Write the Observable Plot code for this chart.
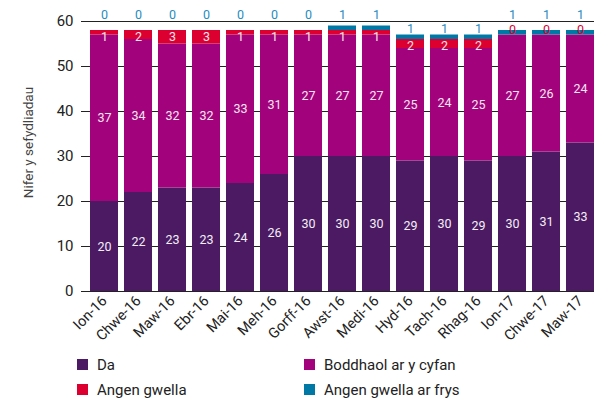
<!DOCTYPE html>
<html>
<head>
<meta charset="utf-8">
<script src="https://cdn.jsdelivr.net/npm/d3@7"></script>
<script src="https://cdn.jsdelivr.net/npm/@observablehq/plot@0.6"></script>
<style>
  body { margin: 0; background: #fff; font-family: Roboto, "Noto Sans", sans-serif; }
  #wrap { width: 594px; }
  .legend { display: grid; grid-template-columns: 227px 250px; padding-left: 77px; margin-top: 2px; row-gap: 0; }
  .item { display: flex; align-items: center; height: 25px; font-size: 15px; color: #222; }
  .sw { width: 11px; height: 11px; margin-right: 9px; flex: none; }
</style>
</head>
<body>
<div id="wrap"></div>
<script>
const months = ["Ion-16","Chwe-16","Maw-16","Ebr-16","Mai-16","Meh-16","Gorff-16","Awst-16","Medi-16","Hyd-16","Tach-16","Rhag-16","Ion-17","Chwe-17","Maw-17"];
const series = ["Da","Boddhaol ar y cyfan","Angen gwella","Angen gwella ar frys"];
const colors = ["#4b1a63","#a2037c","#dc0030","#0078a6"];
const da       = [20,22,23,23,24,26,30,30,30,29,30,29,30,31,33];
const boddhaol = [37,34,32,32,33,31,27,27,27,25,24,25,27,26,24];
const angen    = [1,2,3,3,1,1,1,1,1,2,2,2,0,0,0];
const frys     = [0,0,0,0,0,0,0,1,1,1,1,1,1,1,1];
const yTicks = [0,10,20,30,40,50,60];
const yLabel = "Nifer y sefydliadau";

const values = [da, boddhaol, angen, frys];
const rows = [];
months.forEach((m, i) => {
  let acc = 0;
  series.forEach((s, k) => {
    const v = values[k][i];
    rows.push({month: m, series: s, value: v, y1: acc, y2: acc + v, mid: acc + v / 2, total: 0});
    acc += v;
  });
  rows.filter(r => r.month === m).forEach(r => r.total = acc);
});

const of = s => rows.filter(r => r.series === s);
const red = of("Angen gwella");
const blue = of("Angen gwella ar frys").map(r => ({...r, ly: r.total >= 58 ? 60.5 : r.total + 0.45}));

const chart = Plot.plot({
  width: 594,
  height: 350,
  marginLeft: 81,
  marginRight: 0,
  marginTop: 21,
  marginBottom: 59,
  style: {fontFamily: "Roboto, 'Noto Sans', sans-serif", background: "#fff"},
  x: {domain: months, paddingInner: 0.185, paddingOuter: 0.058, align: 1},
  y: {domain: [0, 60]},
  color: {domain: series, range: colors},
  marks: [
    Plot.ruleY(yTicks, {stroke: "#222", strokeWidth: 1}),
    Plot.barY(rows, {x: "month", y1: "y1", y2: "y2", fill: "series"}),
    Plot.text(of("Da"), {x: "month", y: "mid", text: d => String(d.value), fill: "#f4eef6", fontSize: 12.5}),
    Plot.text(of("Boddhaol ar y cyfan"), {x: "month", y: "mid", text: d => String(d.value), fill: "#f7e6f1", fontSize: 12.5}),
    Plot.text(red.filter(d => d.value > 0), {x: "month", y: "y2", text: d => String(d.value), fill: "#f9e3ea", fontSize: 12.5, lineAnchor: "top", dy: 2}),
    Plot.text(red.filter(d => d.value === 0), {x: "month", y: "y2", text: d => String(d.value), fill: "#dc0030", fontSize: 12.5, lineAnchor: "bottom", dy: -1}),
    Plot.text(blue, {x: "month", y: "ly", text: d => String(d.value), fill: "#2a8cc0", fontSize: 12.5, lineAnchor: "bottom"}),
    Plot.axisY({ticks: yTicks, tickSize: 0, tickPadding: 8, fontSize: 15, color: "#222", label: null}),
    Plot.text([yLabel], {frameAnchor: "left", rotate: -90, dx: -53, dy: -14, fontSize: 13.5, fill: "#444", text: d => d, textAnchor: "middle", lineAnchor: "middle"}),
    Plot.axisX({tickRotate: -45, tickSize: 0, tickPadding: 7, fontSize: 14.5, color: "#222", label: null})
  ]
});
document.getElementById("wrap").appendChild(chart);

const legend = document.createElement("div");
legend.className = "legend";
[0, 1, 2, 3].forEach(k => {
  const it = document.createElement("div");
  it.className = "item";
  const sw = document.createElement("span");
  sw.className = "sw";
  sw.style.background = colors[k];
  it.appendChild(sw);
  it.appendChild(document.createTextNode(series[k]));
  legend.appendChild(it);
});
document.getElementById("wrap").appendChild(legend);
</script>
</body>
</html>
